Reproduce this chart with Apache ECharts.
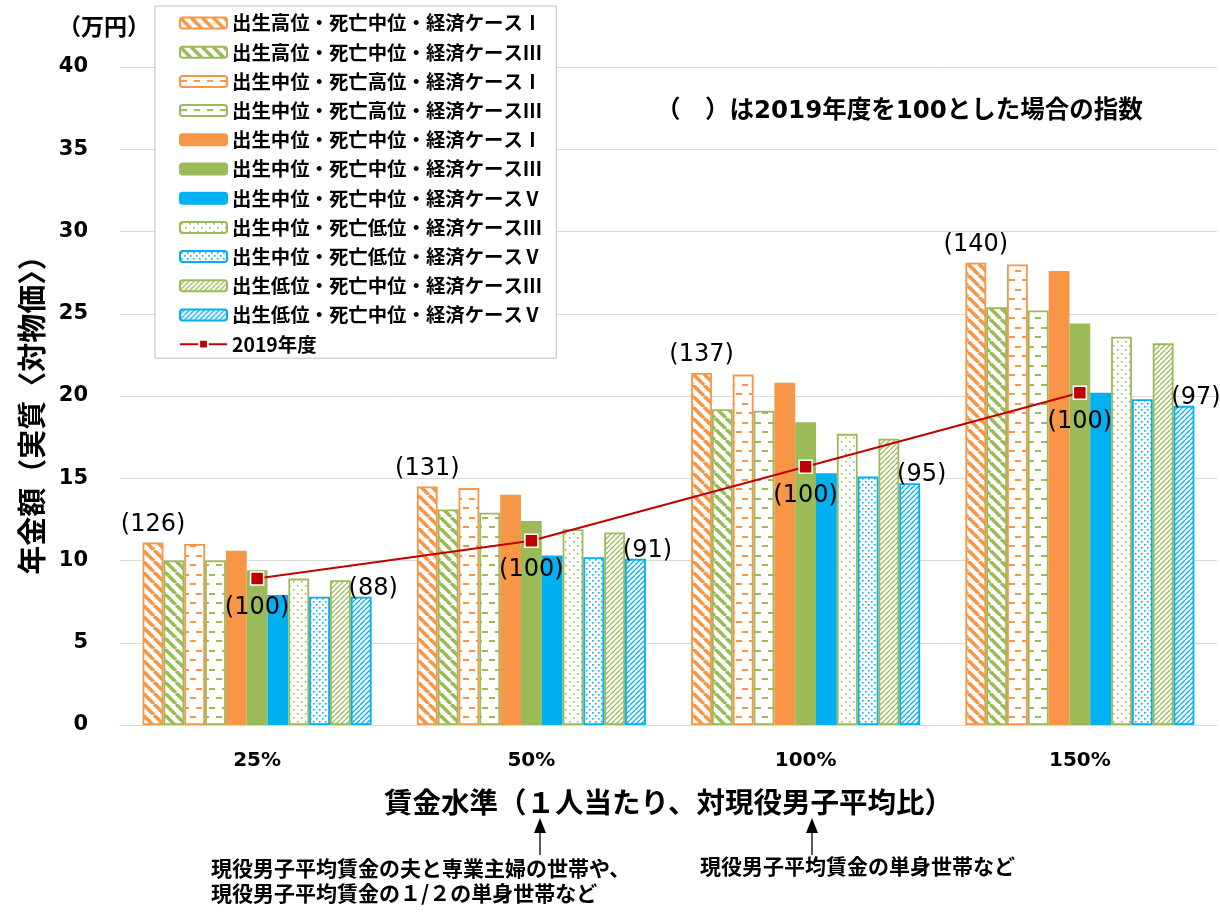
<!DOCTYPE html>
<html>
<head>
<meta charset="utf-8">
<script src="https://cdn.jsdelivr.net/npm/echarts@6/dist/echarts.min.js"></script>
<style>
html,body{margin:0;padding:0;background:#fff;}
#c{width:1220px;height:912px;}
</style>
</head>
<body>
<div id="c"></div>
<script>
// ---- data ----
const categories = ['25%', '50%', '100%', '150%'];
const seriesNames = [
  '出生高位・死亡中位・経済ケースⅠ',
  '出生高位・死亡中位・経済ケースⅢ',
  '出生中位・死亡高位・経済ケースⅠ',
  '出生中位・死亡高位・経済ケースⅢ',
  '出生中位・死亡中位・経済ケースⅠ',
  '出生中位・死亡中位・経済ケースⅢ',
  '出生中位・死亡中位・経済ケースⅤ',
  '出生中位・死亡低位・経済ケースⅢ',
  '出生中位・死亡低位・経済ケースⅤ',
  '出生低位・死亡中位・経済ケースⅢ',
  '出生低位・死亡中位・経済ケースⅤ'
];
const highBirthMidDeathI   = [11.1, 14.5, 21.4, 28.1];
const highBirthMidDeathIII = [10.0, 13.1, 19.2, 25.4];
const midBirthHighDeathI   = [11.0, 14.4, 21.3, 28.0];
const midBirthHighDeathIII = [10.0, 12.9, 19.1, 25.2];
const midBirthMidDeathI    = [10.6, 14.0, 20.8, 27.6];
const midBirthMidDeathIII  = [9.4, 12.4, 18.4, 24.4];
const midBirthMidDeathV    = [7.9, 10.3, 15.3, 20.2];
const midBirthLowDeathIII  = [8.9, 11.9, 17.7, 23.6];
const midBirthLowDeathV    = [7.8, 10.2, 15.1, 19.8];
const lowBirthMidDeathIII  = [8.8, 11.7, 17.4, 23.2];
const lowBirthMidDeathV    = [7.8, 10.1, 14.7, 19.4];
const fy2019Name = '2019年度';
const fy2019 = [8.9, 11.2, 15.7, 20.2];
const indexHigh = ['(126)', '(131)', '(137)', '(140)'];
const indexBase = ['(100)', '(100)', '(100)', '(100)'];
const indexLow = ['(88)', '(91)', '(95)', '(97)'];

// ---- styles ----
const ORANGE = '#F79646', GREEN = '#9BBB59', BLUE = '#00B0F0', RED = '#C00000';

function pattern(type, color) {
  const c = document.createElement('canvas');
  let w = 10, h = 10;
  if (type === 'wideDown') { w = 11; h = 11; }
  if (type === 'dash') { w = 13; h = 19; }
  if (type === 'dotSparse') { w = 8; h = 8; }
  if (type === 'dotDense') { w = 6; h = 6; }
  if (type === 'lightUp') { w = 5; h = 5; }
  c.width = w; c.height = h;
  const g = c.getContext('2d');
  g.fillStyle = '#fff'; g.fillRect(0, 0, w, h);
  g.fillStyle = color; g.strokeStyle = color;
  if (type === 'wideDown') {
    g.lineWidth = 3.6;
    for (let k = -w; k <= w; k += w) { g.beginPath(); g.moveTo(k, 0); g.lineTo(k + w, h); g.stroke(); }
  } else if (type === 'dash') {
    g.fillRect(1, 4, 6, 2);
    g.fillRect(8, 13, 5, 2); g.fillRect(0, 13, 1, 2);
  } else if (type === 'dotSparse') {
    g.fillRect(1, 1, 1.6, 1.6); g.fillRect(5, 5, 1.6, 1.6);
  } else if (type === 'dotDense') {
    g.fillRect(1, 1, 1.6, 1.6); g.fillRect(4, 4, 1.6, 1.6);
  } else if (type === 'lightUp') {
    g.lineWidth = 1.3;
    for (let k = -w; k <= w; k += w) { g.beginPath(); g.moveTo(k, h); g.lineTo(k + w, 0); g.stroke(); }
  }
  return { image: c, repeat: 'repeat' };
}

const barStyles = [
  { fill: pattern('wideDown', ORANGE), border: ORANGE },
  { fill: pattern('wideDown', GREEN), border: GREEN },
  { fill: pattern('dash', ORANGE), border: ORANGE },
  { fill: pattern('dash', GREEN), border: GREEN },
  { fill: ORANGE, border: ORANGE },
  { fill: GREEN, border: GREEN },
  { fill: BLUE, border: BLUE },
  { fill: pattern('dotSparse', GREEN), border: GREEN },
  { fill: pattern('dotDense', BLUE), border: BLUE },
  { fill: pattern('lightUp', GREEN), border: GREEN },
  { fill: pattern('lightUp', BLUE), border: BLUE }
];
const barData = [highBirthMidDeathI, highBirthMidDeathIII, midBirthHighDeathI, midBirthHighDeathIII,
  midBirthMidDeathI, midBirthMidDeathIII, midBirthMidDeathV, midBirthLowDeathIII, midBirthLowDeathV,
  lowBirthMidDeathIII, lowBirthMidDeathV];

const NUM_FONT = "'DejaVu Sans', 'Noto Sans CJK JP', sans-serif";
const JP_FONT = "'Noto Sans CJK JP', sans-serif";

const series = barData.map((d, i) => {
  const s = {
    name: seriesNames[i],
    type: 'bar',
    data: d,
    barGap: '0%',
    barCategoryGap: '16.5%',
    itemStyle: { color: barStyles[i].fill, borderColor: barStyles[i].border, borderWidth: 1.8 },
    emphasis: { disabled: true }
  };
  if (i === 0) {
    s.label = { show: true, position: 'top', distance: 6, fontFamily: NUM_FONT, fontSize: 24, color: '#000',
      formatter: p => indexHigh[p.dataIndex] };
  }
  if (i === barData.length - 1) {
    s.label = { show: true, position: 'top', distance: 2, offset: [12, 6], fontFamily: NUM_FONT, fontSize: 24, color: '#000',
      formatter: p => indexLow[p.dataIndex] };
  }
  return s;
});
series.push({
  name: fy2019Name,
  type: 'line',
  data: fy2019,
  symbol: 'rect',
  symbolSize: 13,
  z: 5,
  lineStyle: { color: RED, width: 2 },
  itemStyle: { color: RED, borderColor: '#fff', borderWidth: 1.5 },
  label: { show: true, position: 'bottom', distance: 10, fontFamily: NUM_FONT, fontSize: 24, color: '#000',
    formatter: p => indexBase[p.dataIndex] },
  emphasis: { disabled: true }
});

const chart = echarts.init(document.getElementById('c'), null, { renderer: 'canvas' });
chart.setOption({
  animation: false,
  backgroundColor: '#fff',
  grid: { left: 120, right: 3, top: 67, bottom: 187, containLabel: false },
  legend: {
    orient: 'vertical',
    left: 155, top: 6,
    padding: [7, 14, 4, 24],
    itemGap: 9.2,
    itemWidth: 47, itemHeight: 11,
    borderColor: '#bfbfbf', borderWidth: 1,
    backgroundColor: '#fff',
    textStyle: { fontFamily: JP_FONT, fontWeight: 'bold', fontSize: 19.4, lineHeight: 20, color: '#000' },
    data: seriesNames.concat([fy2019Name])
  },
  xAxis: {
    type: 'category',
    data: categories,
    axisLine: { lineStyle: { color: '#d9d9d9', width: 1 } },
    axisTick: { show: false },
    axisLabel: { margin: 26, fontFamily: NUM_FONT, fontWeight: 'bold', fontSize: 20, color: '#000' },
    name: '賃金水準（１人当たり、対現役男子平均比）',
    nameLocation: 'middle',
    nameGap: 63,
    nameTextStyle: { fontFamily: JP_FONT, fontWeight: 'bold', fontSize: 28.5, color: '#000' }
  },
  yAxis: {
    type: 'value',
    min: 0, max: 40, interval: 5,
    axisLine: { show: false },
    axisTick: { show: false },
    splitLine: { lineStyle: { color: '#d9d9d9', width: 1 } },
    axisLabel: { margin: 32, fontFamily: NUM_FONT, fontWeight: 'bold', fontSize: 21, color: '#000' },
    name: '年金額（実質〈対物価〉）',
    nameLocation: 'middle',
    nameRotate: 90,
    nameGap: 74,
    nameTextStyle: { fontFamily: JP_FONT, fontWeight: 'bold', fontSize: 29, color: '#000', padding: [0, 24, 0, 0] }
  },
  graphic: [
    { type: 'text', left: 58, top: 15, style: { text: '（万円）', fontFamily: JP_FONT, fontWeight: 'bold', fontSize: 23, fill: '#000' } },
    { type: 'text', left: 656, top: 99, style: { text: '（　）は2019年度を100とした場合の指数', fontFamily: NUM_FONT, fontWeight: 'bold', fontSize: 24.5, fill: '#000' } },
    { type: 'polygon', shape: { points: [[540, 818], [534, 833], [546, 833]] }, style: { fill: '#000' } },
    { type: 'line', shape: { x1: 540, y1: 832, x2: 540, y2: 855 }, style: { stroke: '#000', lineWidth: 1.3 } },
    { type: 'polygon', shape: { points: [[812, 818], [806, 833], [818, 833]] }, style: { fill: '#000' } },
    { type: 'line', shape: { x1: 812, y1: 832, x2: 812, y2: 855 }, style: { stroke: '#000', lineWidth: 1.3 } },
    { type: 'text', left: 211, top: 856, style: { text: '現役男子平均賃金の夫と専業主婦の世帯や、\n現役男子平均賃金の１/２の単身世帯など', lineHeight: 25, fontFamily: JP_FONT, fontWeight: 'bold', fontSize: 21, fill: '#000' } },
    { type: 'text', left: 700, top: 856, style: { text: '現役男子平均賃金の単身世帯など', fontFamily: JP_FONT, fontWeight: 'bold', fontSize: 21, fill: '#000' } }
  ],
  series: series
});
</script>
</body>
</html>
